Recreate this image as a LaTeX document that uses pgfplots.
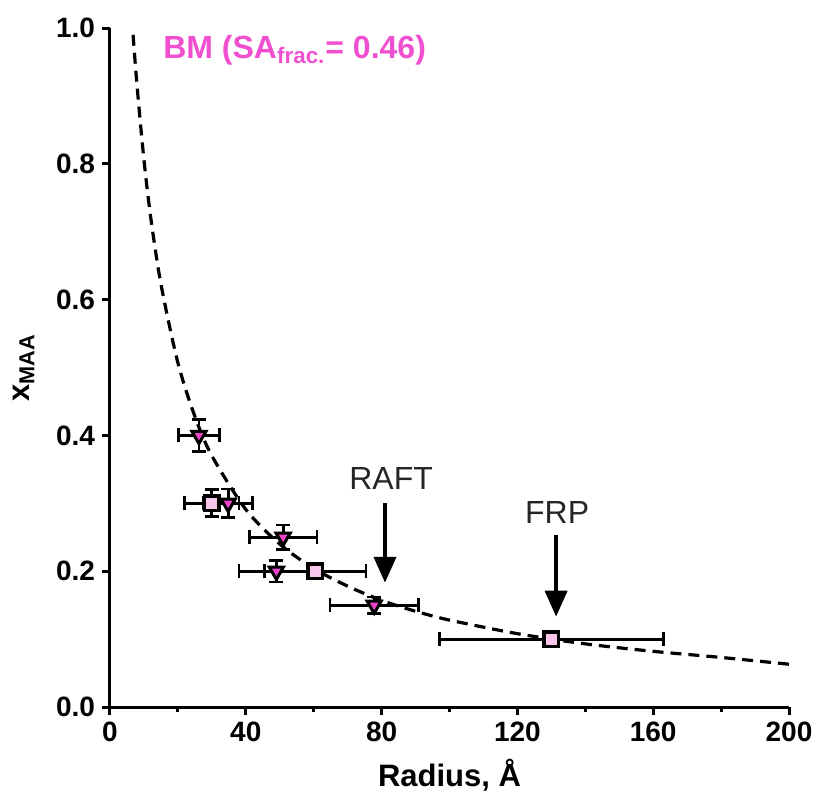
\documentclass[border=0pt]{standalone}
\usepackage{pgfplots}
\pgfplotsset{compat=1.18}
\usepackage{fontspec}
\setmainfont{Liberation Sans}
\usetikzlibrary{arrows.meta}
\definecolor{tri}{HTML}{EE44CC}
\definecolor{sq}{HTML}{F8C6EA}
\definecolor{ttl}{HTML}{F050D0}
\begin{document}
\begin{tikzpicture}
\begin{axis}[
  at={(0pt,0pt)}, anchor=south west,
  scale only axis, width=339.5pt, height=339.5pt,
  xmin=0, xmax=200, ymin=0, ymax=1.0,
  axis x line*=bottom, axis y line*=left,
  axis line style={line width=1.5pt},
  xtick={0,40,...,200}, minor xtick={20,60,...,180},
  ytick={0,0.2,...,1.0},
  tick style={line width=1.5pt, black},
  major tick length=4pt, minor tick length=2.5pt,
  tick align=outside,
  /pgf/number format/assume math mode=true,
  yticklabel style={/pgf/number format/.cd, fixed, fixed zerofill, precision=1},
  ticklabel style={font=\fontsize{14}{16}\selectfont\bfseries},
  xlabel={Radius, Å},
  ylabel={x\textsubscript{MAA}},
  label style={font=\fontsize{15.5}{18}\selectfont\bfseries},
  xlabel style={yshift=-2pt},
  ylabel style={yshift=4pt},
  clip=false,
]
% fitted curve
\addplot[black, line width=1.6pt, dash pattern=on 5.5pt off 3.5pt, smooth] coordinates {
(6.8,0.990) (8,0.913) (10,0.806) (12,0.721) (15,0.623) (20,0.507) (25,0.428)
(30,0.370) (40,0.291) (50,0.240) (60,0.204) (70,0.178) (80,0.157) (90,0.141)
(100,0.128) (120,0.108) (140,0.093) (160,0.082) (180,0.073) (200,0.063)};
% squares
\addplot[only marks, mark=square*, mark size=3.6pt, mark options={fill=sq, draw=black, line width=1.7pt},
  error bars/.cd, x dir=both, x explicit, y dir=both, y explicit,
  error bar style={line width=1.4pt, black}, error mark options={rotate=90, line width=1.4pt, mark size=3.5pt, black}]
  table[x=x, y=y, x error=ex, y error=ey] {
x y ex ey
30 0.30 8 0.020
60.4 0.20 15 0.011
130 0.10 33 0.000
};
% triangles
\addplot[only marks, mark=triangle*, mark size=4.1pt, mark options={rotate=180, fill=tri, draw=black, line width=1.5pt},
  error bars/.cd, x dir=both, x explicit, y dir=both, y explicit,
  error bar style={line width=1.4pt, black}, error mark options={rotate=90, line width=1.4pt, mark size=3.5pt, black}]
  table[x=x, y=y, x error=ex, y error=ey] {
x y ex ey
26.2 0.40 6 0.024
34.8 0.30 7.2 0.021
51 0.25 10 0.018
49 0.20 11 0.016
77.8 0.15 13 0.012
};
\draw[line width=2pt, -{Triangle[length=13pt, width=11pt]}] (axis cs:81,0.30) -- (axis cs:81,0.183);
\draw[line width=2pt, -{Triangle[length=13pt, width=11pt]}] (axis cs:131.4,0.253) -- (axis cs:131.4,0.133);
\node[text=black!85, font=\fontsize{16}{18}\selectfont] at (axis cs:82.8,0.337) {RAFT};
\node[text=black!85, font=\fontsize{16}{18}\selectfont] at (axis cs:131.7,0.287) {FRP};
\node[anchor=west, inner sep=0pt, text=ttl, font=\fontsize{16}{18}\selectfont\bfseries] at (axis cs:15.6,0.968) {BM (SA\textsubscript{frac.}= 0.46)};
\end{axis}
\pgfresetboundingbox
\path[use as bounding box] (-55pt,-46.5pt) rectangle (352pt,353.5pt);
\end{tikzpicture}
\end{document}
